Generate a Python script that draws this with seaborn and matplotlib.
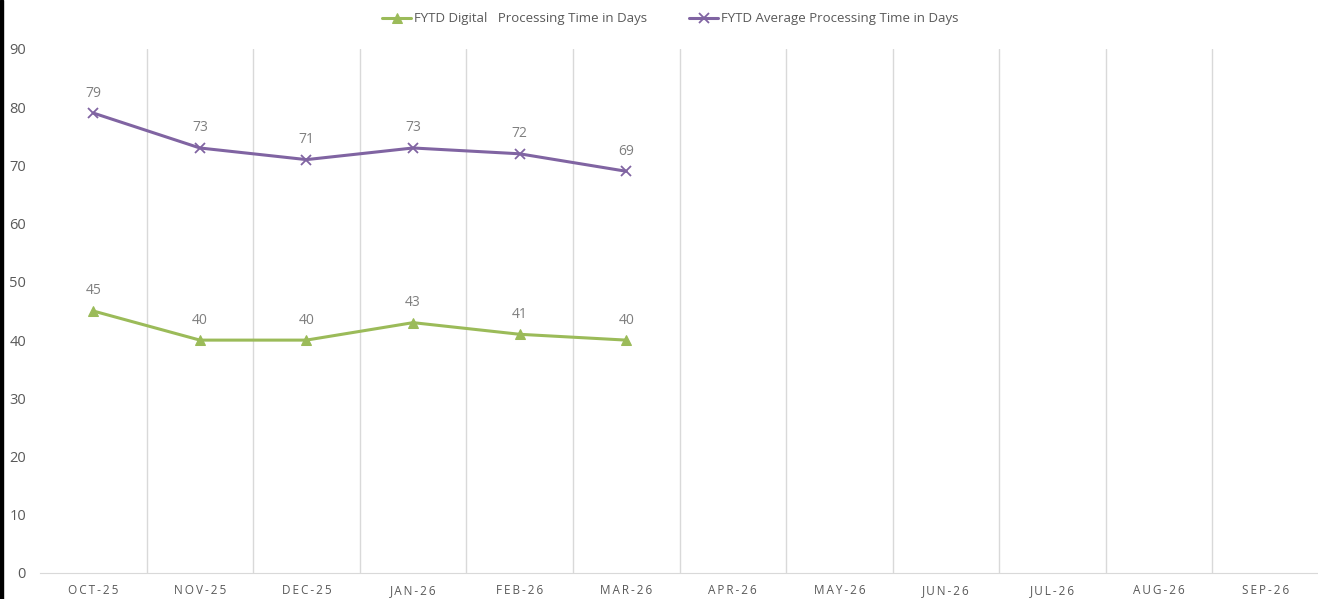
import pandas as pd
import seaborn as sns
import matplotlib.pyplot as plt
from matplotlib.patches import Rectangle

months = ['OCT-25', 'NOV-25', 'DEC-25', 'JAN-26', 'FEB-26', 'MAR-26',
          'APR-26', 'MAY-26', 'JUN-26', 'JUL-26', 'AUG-26', 'SEP-26']
digital = [45, 40, 40, 43, 41, 40]
average = [79, 73, 71, 73, 72, 69]
digital_label = 'FYTD Digital   Processing Time in Days'
average_label = 'FYTD Average Processing Time in Days'

green = '#9BBB59'
purple = '#8064A2'
label_gray = '#7F7F7F'
tick_gray = '#595959'

sns.set_style('white')
plt.rcParams['font.family'] = ['Open Sans', 'DejaVu Sans']

fig = plt.figure(figsize=(13.18, 5.99), dpi=100)
ax = fig.add_axes([40 / 1318, 26 / 599, 1279 / 1318, 524 / 599])

sns.lineplot(x=range(len(digital)), y=digital, color=green, marker='^',
             markersize=7, markeredgecolor=green, linewidth=2.2,
             label=digital_label, ax=ax)
sns.lineplot(x=range(len(average)), y=average, color=purple, marker='x',
             markersize=7, markeredgewidth=1.3, markeredgecolor=purple,
             linewidth=2.2, label=average_label, ax=ax)

# data labels
for vals in [digital, average]:
    for i, v in enumerate(vals):
        ax.annotate(str(v), (i, v), xytext=(0, 9), textcoords='offset points',
                    ha='center', va='bottom', color=label_gray, fontsize=10)

ax.set_xlim(-0.5, len(months) - 0.5)
ax.set_ylim(0, 90)
ax.set_yticks(range(0, 91, 10))
ax.set_xticks(range(len(months)))
ax.set_xticklabels(['\u2009'.join(m) for m in months], fontsize=8.5, color=tick_gray)
ax.tick_params(axis='y', labelsize=10.5, labelcolor=tick_gray, length=0, pad=10)
ax.tick_params(axis='x', length=0, pad=8)
ax.set_xlabel('')
ax.set_ylabel('')

# vertical gridlines at category boundaries
for b in range(1, len(months)):
    ax.axvline(b - 0.5, color='#D9D9D9', linewidth=1, zorder=0)

for side in ['top', 'right', 'left']:
    ax.spines[side].set_visible(False)
ax.spines['bottom'].set_color('#D9D9D9')

leg = ax.legend(loc='upper center', bbox_to_anchor=(0.5 - 9 / 1279, 1.093), ncol=2,
                frameon=False, fontsize=9.5, handlelength=2.2, columnspacing=3.2,
                handletextpad=0.2)
for t in leg.get_texts():
    t.set_color(tick_gray)

fig.patches.append(Rectangle((0, 0), 3 / 1318, 1, transform=fig.transFigure,
                             color='black', zorder=10))

fig.savefig('out.png', dpi=100)
